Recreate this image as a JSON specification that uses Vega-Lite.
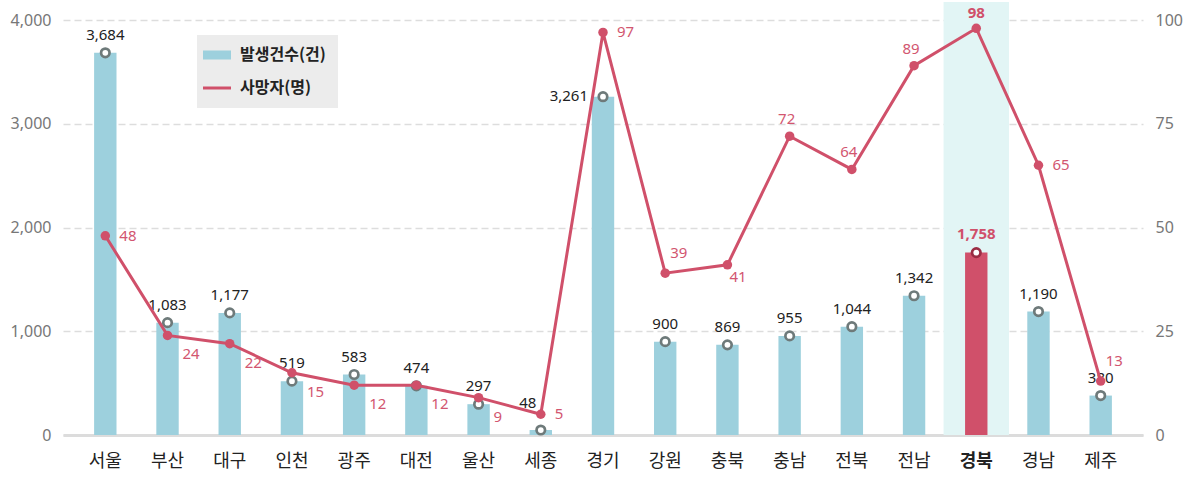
{
  "$schema": "https://vega.github.io/schema/vega-lite/v6.json",
  "width": 1080,
  "height": 415,
  "autosize": {"type": "none"},
  "padding": {"left": 63, "top": 20, "right": 50, "bottom": 44},
  "background": "white",
  "config": {
    "view": {"stroke": null},
    "font": "Noto Sans CJK KR",
    "axis": {"ticks": false, "title": null}
  },
  "data": {
    "values": [
      {"region": "서울", "cases": 3684, "deaths": 48},
      {"region": "부산", "cases": 1083, "deaths": 24},
      {"region": "대구", "cases": 1177, "deaths": 22},
      {"region": "인천", "cases": 519, "deaths": 15},
      {"region": "광주", "cases": 583, "deaths": 12},
      {"region": "대전", "cases": 474, "deaths": 12},
      {"region": "울산", "cases": 297, "deaths": 9},
      {"region": "세종", "cases": 48, "deaths": 5},
      {"region": "경기", "cases": 3261, "deaths": 97},
      {"region": "강원", "cases": 900, "deaths": 39},
      {"region": "충북", "cases": 869, "deaths": 41},
      {"region": "충남", "cases": 955, "deaths": 72},
      {"region": "전북", "cases": 1044, "deaths": 64},
      {"region": "전남", "cases": 1342, "deaths": 89},
      {"region": "경북", "cases": 1758, "deaths": 98},
      {"region": "경남", "cases": 1190, "deaths": 65},
      {"region": "제주", "cases": 380, "deaths": 13}
    ]
  },
  "encoding": {
    "x": {
      "field": "region",
      "type": "nominal",
      "sort": null,
      "title": null,
      "scale": {
        "domain": ["서울", "부산", "대구", "인천", "광주", "대전", "울산", "세종", "경기", "강원", "충북", "충남", "전북", "전남", "경북", "경남", "제주"],
        "paddingInner": 0.64,
        "paddingOuter": 0.5
      },
      "axis": {
        "labelAngle": 0,
        "labelFont": "Noto Sans CJK KR",
        "labelFontSize": 18,
        "labelColor": "#222222",
        "labelPadding": 17,
        "labelFontWeight": {"condition": {"test": "datum.value === '경북'", "value": "bold"}, "value": "normal"},
        "domain": true,
        "domainColor": "#dcdcdc",
        "domainWidth": 3,
        "ticks": false,
        "grid": false
      }
    }
  },
  "layer": [
    {
      "transform": [{"filter": "datum.region === '경북'"}],
      "mark": {"type": "bar", "color": "#e2f5f5", "width": {"band": 2.92}, "yOffset": -18, "y2Offset": 24}
    },
    {
      "encoding": {
        "y": {
          "field": "cases",
          "type": "quantitative",
          "title": null,
          "scale": {"domain": [0, 4000]},
          "axis": {
            "values": [0, 1000, 2000, 3000, 4000],
            "format": ",d",
            "labelFont": "Noto Sans",
            "labelFontSize": 16,
            "labelColor": "#777777",
            "labelPadding": 12,
            "domain": false,
            "ticks": false,
            "grid": true,
            "gridColor": "#dddddd",
            "gridDash": [7, 4],
            "gridWidth": 1.5
          }
        }
      },
      "layer": [
        {
          "mark": {"type": "bar", "width": {"band": 1}},
          "encoding": {
            "color": {
              "condition": {"test": "datum.region === '경북'", "value": "#d0506a"},
              "datum": "발생건수(건)",
              "scale": {"domain": ["발생건수(건)", "사망자(명)"], "range": ["#9dd0dd", "#d0506a"]},
              "legend": {
                "orient": "none",
                "legendX": 134,
                "legendY": 15,
                "title": null,
                "fillColor": "#ececec",
                "padding": 12,
                "rowPadding": 7,
                "symbolType": "stroke",
                "symbolSize": 784,
                "labelOffset": 15,
                "labelFont": "Noto Sans CJK KR",
                "labelFontSize": 16,
                "labelFontWeight": "bold",
                "labelColor": "#222222",
                "encode": {
                  "symbols": {
                    "update": {
                      "fill": {"value": "transparent"},
                      "stroke": {"signal": "datum.value === '사망자(명)' ? '#d0506a' : '#9dd0dd'"},
                      "strokeWidth": {"signal": "datum.value === '사망자(명)' ? 3 : 9"},
                      "opacity": {"value": 1}
                    }
                  }
                }
              }
            }
          }
        },
        {
          "mark": {"type": "point", "shape": "circle", "filled": true, "fill": "white", "size": 72, "strokeWidth": 2.7, "opacity": 1},
          "encoding": {
            "stroke": {"condition": {"test": "datum.region === '경북'", "value": "#9a2c43"}, "value": "#6e7a7a"}
          }
        },
        {
          "transform": [{"filter": "indexof(['경기','경북','세종'], datum.region) < 0"}],
          "mark": {"type": "text", "font": "Noto Sans", "fontSize": 15, "color": "#222222", "dy": -18, "align": "center", "baseline": "middle"},
          "encoding": {"text": {"field": "cases", "type": "quantitative", "format": ","}}
        },
        {
          "transform": [{"filter": "datum.region === '세종'"}],
          "mark": {"type": "text", "font": "Noto Sans", "fontSize": 15, "color": "#222222", "dx": -13, "dy": -27, "align": "center", "baseline": "middle"},
          "encoding": {"text": {"field": "cases", "type": "quantitative", "format": ","}}
        },
        {
          "transform": [{"filter": "datum.region === '경기'"}],
          "mark": {"type": "text", "font": "Noto Sans", "fontSize": 15, "color": "#222222", "dx": -15, "dy": -1, "align": "right", "baseline": "middle"},
          "encoding": {"text": {"field": "cases", "type": "quantitative", "format": ","}}
        },
        {
          "transform": [{"filter": "datum.region === '경북'"}],
          "mark": {"type": "text", "font": "Noto Sans", "fontSize": 15, "fontWeight": "bold", "color": "#d0506a", "dy": -19, "align": "center", "baseline": "middle"},
          "encoding": {"text": {"field": "cases", "type": "quantitative", "format": ","}}
        }
      ]
    },
    {
      "encoding": {
        "y": {
          "field": "deaths",
          "type": "quantitative",
          "title": null,
          "scale": {"domain": [0, 100]},
          "axis": {
            "orient": "right",
            "values": [0, 25, 50, 75, 100],
            "format": "d",
            "labelFont": "Noto Sans",
            "labelFontSize": 16,
            "labelColor": "#777777",
            "labelPadding": 12,
            "domain": false,
            "ticks": false,
            "grid": false
          }
        }
      },
      "layer": [
        {
          "mark": {"type": "line", "strokeWidth": 3},
          "encoding": {
            "color": {"datum": "사망자(명)", "scale": {"domain": ["발생건수(건)", "사망자(명)"], "range": ["#9dd0dd", "#d0506a"]}}
          }
        },
        {
          "mark": {"type": "point", "shape": "circle", "filled": true, "color": "#d0506a", "size": 90, "opacity": 1}
        },
        {
          "transform": [{"filter": "indexof(['부산','대구','인천','광주','대전','울산'], datum.region) >= 0"}],
          "mark": {"type": "text", "font": "Noto Sans", "fontSize": 15, "color": "#d25670", "dx": 15, "dy": 19, "align": "left", "baseline": "middle"},
          "encoding": {"text": {"field": "deaths", "type": "quantitative"}}
        },
        {
          "transform": [{"filter": "indexof(['서울','세종','경기','경남'], datum.region) >= 0"}],
          "mark": {"type": "text", "font": "Noto Sans", "fontSize": 15, "color": "#d25670", "dx": 14, "dy": 0, "align": "left", "baseline": "middle"},
          "encoding": {"text": {"field": "deaths", "type": "quantitative"}}
        },
        {
          "transform": [{"filter": "indexof(['강원','제주'], datum.region) >= 0"}],
          "mark": {"type": "text", "font": "Noto Sans", "fontSize": 15, "color": "#d25670", "dx": 5, "dy": -20, "align": "left", "baseline": "middle"},
          "encoding": {"text": {"field": "deaths", "type": "quantitative"}}
        },
        {
          "transform": [{"filter": "datum.region === '충북'"}],
          "mark": {"type": "text", "font": "Noto Sans", "fontSize": 15, "color": "#d25670", "dx": 2, "dy": 12, "align": "left", "baseline": "middle"},
          "encoding": {"text": {"field": "deaths", "type": "quantitative"}}
        },
        {
          "transform": [{"filter": "indexof(['충남','전북','전남'], datum.region) >= 0"}],
          "mark": {"type": "text", "font": "Noto Sans", "fontSize": 15, "color": "#d25670", "dx": -3, "dy": -17, "align": "center", "baseline": "middle"},
          "encoding": {"text": {"field": "deaths", "type": "quantitative"}}
        },
        {
          "transform": [{"filter": "datum.region === '경북'"}],
          "mark": {"type": "text", "font": "Noto Sans", "fontSize": 15, "fontWeight": "bold", "color": "#d0506a", "dy": -15, "align": "center", "baseline": "middle"},
          "encoding": {"text": {"field": "deaths", "type": "quantitative"}}
        }
      ]
    }
  ],
  "resolve": {"scale": {"y": "independent"}}
}
